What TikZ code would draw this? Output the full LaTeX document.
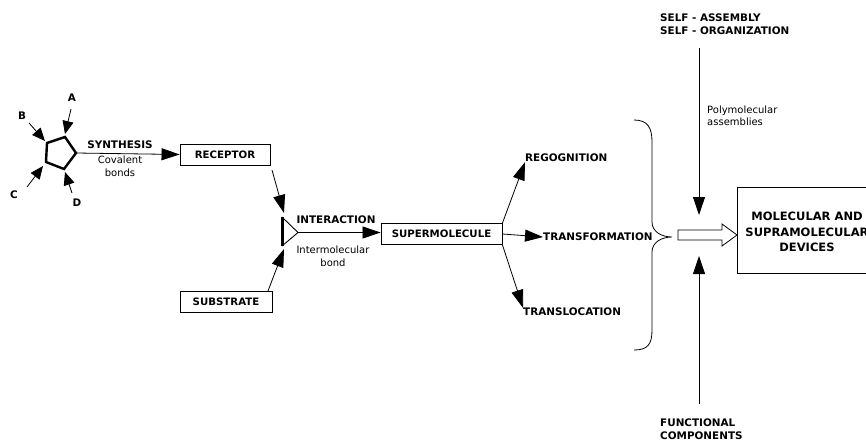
\documentclass[tikz,border=0pt]{standalone}
\usepackage{fontspec}
\setmainfont{DejaVu Sans}
\usetikzlibrary{arrows.meta,calc}
\begin{document}
\begin{tikzpicture}[x=1pt,y=-1pt,
 lbl/.style={font=\bfseries\fontsize{10.4}{13}\selectfont, inner sep=0pt, align=left},
 sm/.style={font=\fontsize{10}{12.5}\selectfont, inner sep=0pt, align=center},
 box/.style={draw, line width=0.9pt, minimum height=21pt, inner sep=0pt, font=\bfseries\fontsize{10.2}{12}\selectfont},
 arr/.style={line width=0.8pt, -{Triangle[length=18pt,width=12pt]}},
 sarr/.style={line width=0.8pt, -{Triangle[length=13pt,width=11pt]}},
 thick2/.style={line width=2.4pt, line join=miter},
]
\useasboundingbox (0,0) rectangle (866,439);

% pentagon
\coordinate (p1) at (47,143);
\coordinate (p2) at (65,137);
\coordinate (p3) at (76,153);
\coordinate (p4) at (64,169);
\coordinate (p5) at (46,162);
\draw[thick2] (p1)--(p2)--(p3)--(p4)--(p5)--cycle;

\node[lbl] (A) at (72,98) {A};
\node[lbl] (B) at (22,116) {B};
\node[lbl] (C) at (14,195) {C};
\node[lbl] (D) at (77,203) {D};
\coordinate (a0) at (71,109);
\coordinate (b0) at (29,123);
\coordinate (c0) at (27,187);
\coordinate (d0) at (72,193);
\draw[sarr] (a0) -- ($(p2)+(0,-3)$);
\draw[sarr] (b0) -- ($(p1)+(-2,-2)$);
\draw[sarr] (c0) -- ($(p5)+(-3,4)$);
\draw[sarr] (d0) -- ($(p4)+(1,3)$);

% synthesis
\node[box, minimum width=90pt] (rec) at (225,154.5) {RECEPTOR};
\draw[arr] (p3) -- (rec.west);
\node[lbl] (syn) at (120,145) {SYNTHESIS};
\node[sm] (cov) at (120,166.5) {Covalent\\bonds};

% interaction
\coordinate (t1) at (282,217);
\coordinate (t2) at (282,246);
\coordinate (t3) at (298,232.5);
\draw[line width=0.9pt] (t1)--(t3)--(t2);
\draw[line width=3pt] (t1)--(t2);
\node[box, minimum width=92pt] (sub) at (226,301.5) {SUBSTRATE};
\coordinate (r0) at (272,170);
\coordinate (s0) at (268,291);
\draw[arr] (r0) -- ($(t1)+(2,-4)$);
\draw[arr] (s0) -- ($(t2)+(2,3)$);

\node[box, minimum width=121pt] (sup) at (441.5,234) {SUPERMOLECULE};
\draw[arr] (t3) -- (t3 -| sup.west);
\node[lbl] (int) at (336,220) {INTERACTION};
\node[sm] (imb) at (333,256.5) {Intermolecular\\bond};

% outcomes
\node[lbl, anchor=west] (reg) at (525,158) {REGOGNITION};
\node[lbl, anchor=west] (trf) at (543,237) {TRANSFORMATION};
\node[lbl, anchor=west] (trl) at (523,312) {TRANSLOCATION};
\draw[arr] (sup.north east) -- (reg.south west);
\draw[arr] (sup.east) -- (trf.west);
\draw[arr] (sup.south east) -- (trl.north west);

% brace
\draw[line width=0.8pt] (634,120) .. controls (648,120) and (652,128) .. (652,142) -- (652,222)
  .. controls (652,232) and (662,237) .. (672,237)
  .. controls (662,237) and (652,242) .. (652,252) -- (652,330)
  .. controls (652,344) and (648,350) .. (634,350);

% hollow arrow
\draw[line width=0.8pt, line join=miter] (678,230)--(722,230)--(722,224)--(737,235)--(722,246)--(722,240)--(678,240)--cycle;

% devices
\node[draw, line width=0.9pt, minimum width=143pt, minimum height=86pt, inner sep=0pt] (dev) at (808.5,230) {};
\node[lbl, align=center, font=\bfseries\fontsize{11.5}{15.5}\selectfont] (devt) at (807,232) {MOLECULAR AND\\SUPRAMOLECULAR\\DEVICES};

% top and bottom
\node[lbl, anchor=west] (self) at (660,24.5) {SELF - ASSEMBLY\\SELF - ORGANIZATION};
\node[sm, anchor=west, align=left] (poly) at (707,116) {Polymolecular\\assemblies};
\node[lbl, anchor=west] (func) at (660,429.5) {FUNCTIONAL\\COMPONENTS};
\coordinate (top0) at (699,48);
\coordinate (top1) at (699,215);
\coordinate (bot0) at (699,404);
\coordinate (bot1) at (699,256);
\draw[arr] (top0) -- (top1);
\draw[arr] (bot0) -- (bot1);
\end{tikzpicture}
\end{document}
